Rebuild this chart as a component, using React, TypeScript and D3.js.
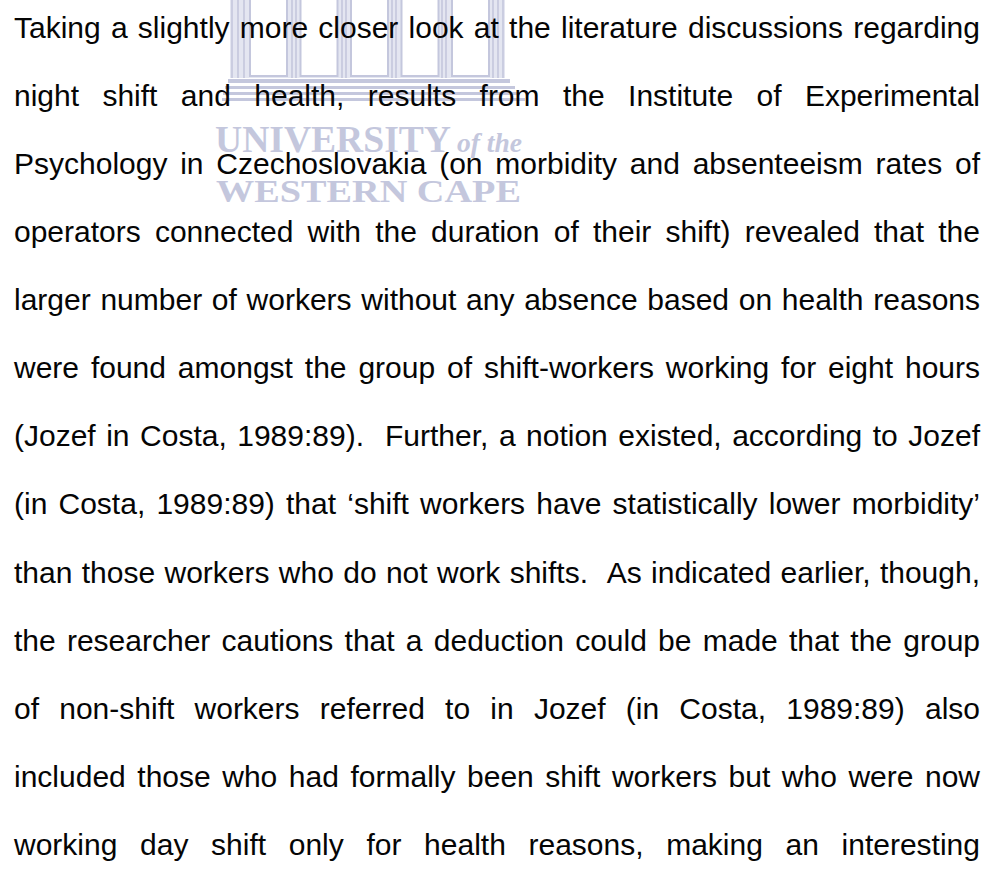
import React, { useMemo } from "react";
import * as d3 from "d3";

const LINES: string[] = [
  "Taking a slightly more closer look at the literature discussions regarding",
  "night shift and health, results from the Institute of Experimental",
  "Psychology in Czechoslovakia (on morbidity and absenteeism rates of",
  "operators connected with the duration of their shift) revealed that the",
  "larger number of workers without any absence based on health reasons",
  "were found amongst the group of shift-workers working for eight hours",
  "(Jozef in Costa, 1989:89).  Further, a notion existed, according to Jozef",
  "(in Costa, 1989:89) that \u2018shift workers have statistically lower morbidity\u2019",
  "than those workers who do not work shifts.  As indicated earlier, though,",
  "the researcher cautions that a deduction could be made that the group",
  "of non-shift workers referred to in Jozef (in Costa, 1989:89) also",
  "included those who had formally been shift workers but who were now",
  "working day shift only for health reasons, making an interesting",
];

const WATERMARK_TOP = "UNIVERSITY";
const WATERMARK_OF = "of the";
const WATERMARK_BOTTOM = "WESTERN CAPE";
const COLUMN_INDEX = [0, 1, 2, 3, 4];

const W = 996;
const H = 871;
const FONT_SIZE = 30;
const FONT = "'Liberation Sans', Arial, Helvetica, sans-serif";
const SERIF = "'Liberation Serif', 'Times New Roman', serif";
const LEFT = 14;
const RIGHT = 980;
const WM = "#c4c7dd";

function layoutLine(line: string, ctx: CanvasRenderingContext2D | null) {
  const words = line.split(/ +/);
  const gaps = (line.match(/ +/g) || []).map((s) => s.length);
  const widths = words.map((w) => (ctx ? ctx.measureText(w).width : w.length * FONT_SIZE * 0.5));
  const total = widths.reduce((a, b) => a + b, 0);
  const nSpaces = gaps.reduce((a, b) => a + b, 0);
  const per = nSpaces > 0 ? (RIGHT - LEFT - total) / nSpaces : 0;
  const xs: number[] = [];
  let x = LEFT;
  words.forEach((w, i) => {
    xs.push(x);
    x += widths[i] + (i < gaps.length ? gaps[i] * per : 0);
  });
  return words.map((w, i) => ({ w, x: xs[i], end: xs[i] + widths[i] }));
}

export default function App() {
  const y = d3.scaleLinear().domain([0, LINES.length - 1]).range([37.5, 855]);
  const colX = d3.scaleLinear().domain([0, 4]).range([250, 452]);

  const laid = useMemo(() => {
    const canvas = document.createElement("canvas");
    const ctx = canvas.getContext("2d");
    if (ctx) ctx.font = `${FONT_SIZE}px ${FONT}`;
    return LINES.map((l) => layoutLine(l, ctx));
  }, []);

  const steps = [
    { y: 79, h: 4, x0: 228, x1: 510 },
    { y: 86, h: 3, x0: 225, x1: 515 },
    { y: 92, h: 3, x0: 223, x1: 520 },
    { y: 98, h: 3, x0: 222, x1: 525 },
  ];

  return (
    <svg
      width={W}
      height={H}
      viewBox={`0 0 ${W} ${H}`}
      style={{ position: "absolute", left: 0, top: 0, background: "#fff" }}
    >
      <rect x={0} y={0} width={W} height={H} fill="#fff" />
      {/* watermark */}
      <g>
        <rect x={230} y={-2} width={275} height={80} fill="#e4e6f1" />
        {COLUMN_INDEX.map((i) => (
          <rect
            key={i}
            x={colX(i)}
            y={-4}
            width={37}
            height={80}
            fill="#fff"
            stroke={WM}
            strokeWidth={2}
          />
        ))}
        {[232, 238, 244, 292, 296, 342, 346, 392, 396, 442, 446, 493, 498, 503].map((lx, i) => (
          <line key={i} x1={lx} x2={lx} y1={-2} y2={78} stroke={WM} strokeWidth={1.6} />
        ))}
        {steps.map((s, i) => (
          <rect key={i} x={s.x0} y={s.y} width={s.x1 - s.x0} height={s.h} fill={WM} />
        ))}
        <text
          x={215}
          y={152}
          fontFamily={SERIF}
          fontWeight="bold"
          fontSize={38}
          fill={WM}
          textLength={236}
          lengthAdjust="spacingAndGlyphs"
        >
          {WATERMARK_TOP}
        </text>
        <text
          x={457}
          y={152}
          fontFamily={SERIF}
          fontStyle="italic"
          fontWeight="bold"
          fontSize={28}
          fill={WM}
          textLength={65}
          lengthAdjust="spacingAndGlyphs"
        >
          {WATERMARK_OF}
        </text>
        <text
          x={216}
          y={202}
          fontFamily={SERIF}
          fontWeight="bold"
          fontSize={31}
          fill={WM}
          textLength={305}
          lengthAdjust="spacingAndGlyphs"
        >
          {WATERMARK_BOTTOM}
        </text>
      </g>
      {/* body text */}
      <g fontFamily={FONT} fontSize={FONT_SIZE} fill="#050505">
        {laid.map((words, li) => (
          <text key={li} y={y(li)}>
            {words.map((wd, wi) => (
              <tspan key={wi} x={wd.x}>
                {wd.w}
              </tspan>
            ))}
          </text>
        ))}
      </g>
    </svg>
  );
}
